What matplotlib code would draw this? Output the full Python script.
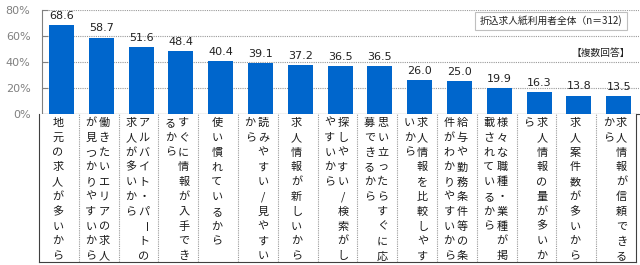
import matplotlib
matplotlib.use('Agg')
import matplotlib.pyplot as plt
from matplotlib.patches import Rectangle
import numpy as np

# data
reasons = [
    '地元の求人が多いから',
    '働きたいエリアの求人が見つかりやすいから',
    'アルバイト・パートの求人が多いから',
    'すぐに情報が入手できるから',
    '使い慣れているから',
    '読みやすい/見やすいから',
    '求人情報が新しいから',
    '探しやすい/検索がしやすいから',
    '思い立ったらすぐに応募できるから',
    '求人情報を比較しやすいから',
    '給与や勤務条件等の条件がわかりやすいから',
    '様々な職種・業種が掲載されているから',
    '求人情報の量が多いから',
    '求人案件数が多いから',
    '求人情報が信頼できるから',
]
values = [68.6, 58.7, 51.6, 48.4, 40.4, 39.1, 37.2, 36.5, 36.5, 26.0, 25.0, 19.9, 16.3, 13.8, 13.5]
yticks = [0, 20, 40, 60, 80]
ytick_labels = ['0%', '20%', '40%', '60%', '80%']
note = '折込求人紙利用者全体（n＝312)'
multi = '【複数回答】'

cjk = ['Noto Sans CJK JP', 'DejaVu Sans']
W, H = 640, 265
fig = plt.figure(figsize=(W / 100, H / 100), dpi=100)


def px_box(l, t, r, b):
    return [l / W, 1 - b / H, (r - l) / W, (b - t) / H]


n = len(values)
x = np.arange(n)

ax = fig.add_axes(px_box(41.6, 10, 638.6, 113.5))
ax.bar(x, values, width=0.63, color='#0066cc', zorder=3)
ax.set_xlim(-0.5, n - 0.5)
ax.set_ylim(0, 80)
ax.set_yticks(yticks)
ax.set_yticklabels(ytick_labels, color='#808080', fontsize=8)
ax.tick_params(axis='y', direction='in', length=4, color='#808080', pad=8)
ax.set_xticks([])
ax.grid(axis='y', linestyle=(0, (1, 1)), color='#999999', linewidth=0.8)
ax.spines['top'].set_visible(False)
ax.spines['right'].set_visible(False)
ax.spines['left'].set_color('#808080')
ax.spines['bottom'].set_color('#404040')
for xi, v in zip(x, values):
    ax.annotate(f'{v:.1f}', (xi, v), xytext=(0, 3), textcoords='offset points',
                ha='center', va='bottom', fontsize=8, color='#222222',
                annotation_clip=False)

# vertical labels box under the bars
lax = fig.add_axes(px_box(39, 113.5, 636, 262))
lax.set_xlim(-0.5, n - 0.5)
lax.set_ylim(148.5, 0)
lax.set_xticks([])
lax.set_yticks([])
lax.spines['top'].set_visible(False)
for s in ['left', 'right', 'bottom']:
    lax.spines[s].set_color('#404040')
for k in range(n - 1):
    lax.axvline(k + 0.5, color='#999999', linestyle=(0, (1, 1)), linewidth=0.8)

col_gap = 0.33
for k, label in enumerate(reasons):
    chunks = [label[i:i + 10] for i in range(0, len(label), 10)]
    nc = len(chunks)
    for j, chunk in enumerate(chunks):
        cx = k - 0.03 + (nc - 1) / 2 * col_gap - j * col_gap
        for i, ch in enumerate(chunk):
            rot = -90 if ch == 'ー' else 0
            lax.text(cx, 9.5 + 14.8 * i, ch, ha='center', va='center',
                     fontsize=8, family=cjk, color='#1a1a1a', rotation=rot)

# sample note box
fig.patches.append(Rectangle((475 / W, 1 - 30 / H), 152 / W, 18 / H,
                             transform=fig.transFigure, facecolor='white',
                             edgecolor='#bfbfbf', linewidth=0.8, zorder=5))
fig.text(551 / W, 1 - 21 / H, note, ha='center', va='center', fontsize=7,
         family=cjk, color='#222222', zorder=6)
fig.text(630 / W, 1 - 53 / H, multi, ha='right', va='center', fontsize=7,
         family=cjk, color='#222222')

fig.savefig('out.png', dpi=100)
